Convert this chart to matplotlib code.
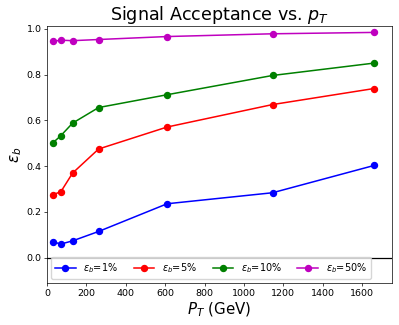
import numpy as np
import matplotlib
matplotlib.use("Agg")
import matplotlib.pyplot as plt

# pT points (GeV)
pt = [30, 70, 130, 262, 610, 1145, 1660]

# signal acceptance for each background efficiency working point
eff_1 = [0.070, 0.060, 0.074, 0.115, 0.236, 0.284, 0.403]
eff_5 = [0.276, 0.288, 0.370, 0.475, 0.571, 0.669, 0.739]
eff_10 = [0.502, 0.533, 0.588, 0.656, 0.712, 0.796, 0.850]
eff_50 = [0.945, 0.950, 0.948, 0.953, 0.966, 0.978, 0.984]

labels = [r"$\epsilon_b$=1%", r"$\epsilon_b$=5%", r"$\epsilon_b$=10%", r"$\epsilon_b$=50%"]
colors = ["b", "r", "g", "m"]

fig = plt.figure(figsize=(3.99, 3.25), dpi=100)
ax = fig.add_axes([47 / 399, 1 - 283 / 325, (391.7 - 47) / 399, (283 - 26) / 325])

for y, lab, c in zip([eff_1, eff_5, eff_10, eff_50], labels, colors):
    ax.plot(pt, y, "o-", color=c, label=lab, markersize=4.3, linewidth=1.1)

ax.axhline(0, color="k", linewidth=0.9)
ax.set_xlim(0, 1750)
ax.set_ylim(-0.11, 1.012)

ax.set_title(r"Signal Acceptance vs. $p_T$", fontsize=12.6, pad=4)
ax.set_xlabel(r"$P_T$ (GeV)", fontsize=10.8, labelpad=2)
ax.set_ylabel(r"$\epsilon_b$", fontsize=10.8, labelpad=2)
ax.tick_params(labelsize=6.8, width=0.5, length=2.5, pad=1.5)
for s in ax.spines.values():
    s.set_linewidth(0.5)

ax.legend(loc="lower left", ncol=4, fontsize=7, markerscale=1.0,
          handlelength=2.1, columnspacing=1.6, borderpad=0.4,
          borderaxespad=0.45)

fig.savefig("out.png", dpi=100)
